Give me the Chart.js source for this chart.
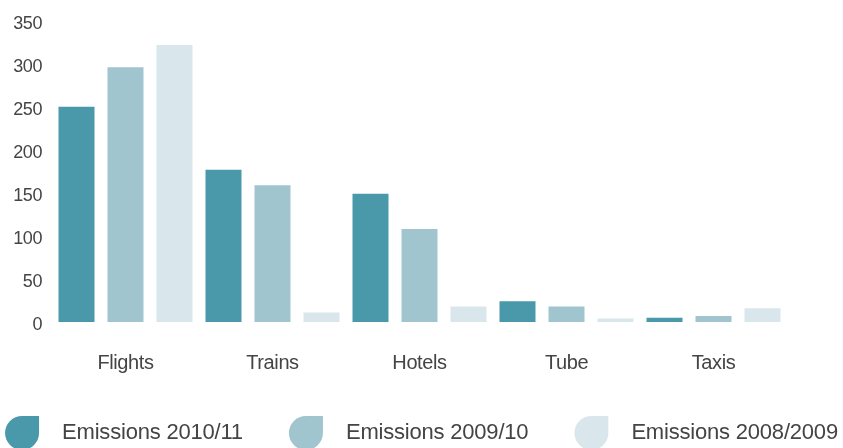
<!DOCTYPE html>
<html>
<head>
<meta charset="utf-8">
<script src="https://cdn.jsdelivr.net/npm/chart.js@4"></script>
<style>
    html, body { margin: 0; padding: 0; background: #fff; }
    #wrap { width: 843px; height: 448px; position: relative; }
</style>
</head>
<body>
<div id="wrap"><canvas id="emissionsChart"></canvas></div>
<script>
// Values
const categories = ['Flights', 'Trains', 'Hotels', 'Tube', 'Taxis'];
const emissions2010 = [250, 177, 149, 24, 5];
const emissions2009 = [296, 159, 108, 18, 7];
const emissions2008 = [322, 11, 18, 4, 16];
const yTicks = [0, 50, 100, 150, 200, 250, 300, 350];

const FONT = '"Liberation Sans", Arial, Helvetica, sans-serif';
const TEXT_COLOR = '#444444';

// Leaf shaped legend drawn under the plot
const leafLegend = {
    id: 'leafLegend',
    afterDraw(chart) {
        const ctx = chart.ctx;
        const leaf = 34;
        const leafGap = 23;
        const itemGap = 46;
        ctx.save();
        ctx.font = '22px ' + FONT;
        ctx.letterSpacing = '-0.2px';
        ctx.textBaseline = 'alphabetic';
        const items = chart.data.datasets.map(ds => ({
            label: ds.label,
            color: ds.backgroundColor,
            w: ctx.measureText(ds.label).width
        }));
        const total = items.reduce((s, it) => s + leaf + leafGap + it.w, 0) + itemGap * (items.length - 1);
        let x = (chart.width - total) / 2;
        items.forEach(it => {
            ctx.fillStyle = it.color;
            ctx.beginPath();
            ctx.roundRect(x, 416, leaf, leaf, [17, 0, 17, 17]);
            ctx.fill();
            ctx.fillStyle = TEXT_COLOR;
            ctx.fillText(it.label, x + leaf + leafGap, 439);
            x += leaf + leafGap + it.w + itemGap;
        });
        ctx.restore();
    }
};

const tightText = {
    id: 'tightText',
    beforeDraw(chart) {
        chart.ctx.letterSpacing = '-0.4px';
    }
};

document.addEventListener('DOMContentLoaded', function() {
    const ctx = document.getElementById('emissionsChart');

    new Chart(ctx, {
        type: 'bar',
        data: {
            labels: categories,
            datasets: [
                { label: 'Emissions 2010/11', data: emissions2010, backgroundColor: '#4a99aa' },
                { label: 'Emissions 2009/10', data: emissions2009, backgroundColor: '#a0c5cf' },
                { label: 'Emissions 2008/2009', data: emissions2008, backgroundColor: '#d9e7ec' }
            ]
        },
        options: {
            responsive: true,
            maintainAspectRatio: false,
            animation: false,
            layout: {
                padding: { top: 19, right: 56, bottom: 44, left: 0 }
            },
            datasets: {
                bar: {
                    categoryPercentage: 1,
                    barPercentage: 0.735
                }
            },
            plugins: {
                legend: { display: false },
                tooltip: { enabled: false }
            },
            scales: {
                x: {
                    grid: { display: false, drawTicks: false },
                    border: { display: false },
                    ticks: {
                        color: TEXT_COLOR,
                        padding: 29,
                        font: { family: FONT, size: 20 }
                    }
                },
                y: {
                    min: 0,
                    max: 350,
                    afterFit(scale) { scale.width = 52; },
                    afterBuildTicks(scale) { scale.ticks = yTicks.map(v => ({ value: v })); },
                    grid: { display: false, drawTicks: false },
                    border: { display: false },
                    ticks: {
                        color: TEXT_COLOR,
                        padding: 10,
                        labelOffset: 3,
                        font: { family: FONT, size: 18 }
                    }
                }
            }
        },
        plugins: [tightText, leafLegend]
    });
});
</script>
</body>
</html>
